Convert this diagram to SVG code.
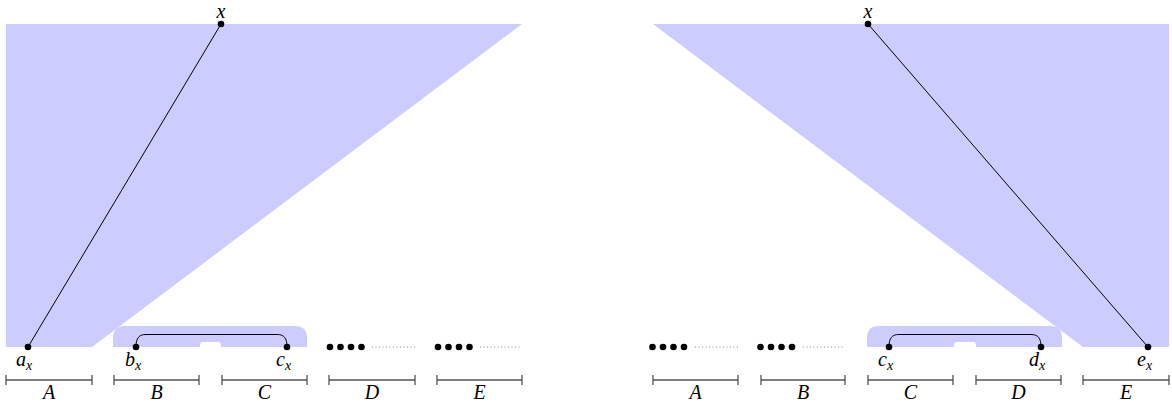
<svg xmlns="http://www.w3.org/2000/svg" width="1172" height="403" viewBox="0 0 1172 403">
<style>
.region{fill:#ccccff;stroke:none}
.edge{fill:none;stroke:#000;stroke-width:1}
.bar{fill:none;stroke:#555;stroke-width:1.3}
.dots{fill:none;stroke:#888;stroke-width:1;stroke-dasharray:1 2.5}
.pt{fill:#000}
</style>
<rect width="1172" height="403" fill="#fff"/>
<g font-family="Liberation Serif, serif" font-style="italic" font-size="20" fill="#000">
<g id="left-panel">
  <g id="left-regions">
    <polygon class="region" points="6,24 522,24 92,347 6,347"/>
    <path class="region" d="M113,347 V338 Q113,326 125,326 H295 Q307,326 307,338 V347 H221 V345 Q221,342 218,342 H203 Q200,342 200,345 V347 Z"/>
  </g>
  <g id="left-connectors">
    <line class="edge" x1="221" y1="24" x2="28" y2="347"/>
    <path class="edge" d="M136,347 C136,338 139,334.5 146,334.5 H277 C284,334.5 287,338 287,347"/>
    <line class="dots" x1="372" y1="347" x2="416" y2="347"/>
    <line class="dots" x1="480" y1="347" x2="522" y2="347"/>
  </g>
  <g id="left-x"><circle class="pt" cx="221" cy="24" r="3.3"/><text x="221" y="18" text-anchor="middle">x</text></g>
  <g id="left-ax"><circle class="pt" cx="28" cy="347" r="3.3"/><text x="16" y="366">a<tspan font-size="14" dy="4">x</tspan></text></g>
  <g id="left-bx"><circle class="pt" cx="136" cy="347" r="3.3"/><text x="125" y="366">b<tspan font-size="14" dy="4">x</tspan></text></g>
  <g id="left-cx"><circle class="pt" cx="287" cy="347" r="3.3"/><text x="276" y="366">c<tspan font-size="14" dy="4">x</tspan></text></g>
  <g id="left-D-dots"><circle class="pt" cx="330" cy="347" r="3.3"/><circle class="pt" cx="340.5" cy="347" r="3.3"/><circle class="pt" cx="351" cy="347" r="3.3"/><circle class="pt" cx="361.5" cy="347" r="3.3"/></g>
  <g id="left-E-dots"><circle class="pt" cx="438" cy="347" r="3.3"/><circle class="pt" cx="448.5" cy="347" r="3.3"/><circle class="pt" cx="459" cy="347" r="3.3"/><circle class="pt" cx="469.5" cy="347" r="3.3"/></g>
  <g id="left-A"><path class="bar" d="M6,375 V385 M6,380 H92 M92,375 V385"/><text x="49" y="399" text-anchor="middle">A</text></g>
  <g id="left-B"><path class="bar" d="M114,375 V385 M114,380 H199 M199,375 V385"/><text x="156.5" y="399" text-anchor="middle">B</text></g>
  <g id="left-C"><path class="bar" d="M222,375 V385 M222,380 H307 M307,375 V385"/><text x="264.5" y="399" text-anchor="middle">C</text></g>
  <g id="left-D"><path class="bar" d="M329,375 V385 M329,380 H415 M415,375 V385"/><text x="372" y="399" text-anchor="middle">D</text></g>
  <g id="left-E"><path class="bar" d="M437,375 V385 M437,380 H522 M522,375 V385"/><text x="479.5" y="399" text-anchor="middle">E</text></g>
</g>
<g id="right-panel">
  <g id="right-regions">
    <polygon class="region" points="653,24 1169,24 1169,347 1083,347"/>
    <path class="region" d="M867,347 V338 Q867,326 879,326 H1050 Q1062,326 1062,338 V347 H976 V345 Q976,342 973,342 H957 Q954,342 954,345 V347 Z"/>
  </g>
  <g id="right-connectors">
    <line class="edge" x1="868" y1="24" x2="1148" y2="347"/>
    <path class="edge" d="M889,347 C889,338 892,334.5 899,334.5 H1031 C1038,334.5 1041,338 1041,347"/>
    <line class="dots" x1="695" y1="347" x2="738" y2="347"/>
    <line class="dots" x1="803" y1="347" x2="845" y2="347"/>
  </g>
  <g id="right-x"><circle class="pt" cx="868" cy="24" r="3.3"/><text x="868" y="18" text-anchor="middle">x</text></g>
  <g id="right-cx"><circle class="pt" cx="889" cy="347" r="3.3"/><text x="878" y="366">c<tspan font-size="14" dy="4">x</tspan></text></g>
  <g id="right-dx"><circle class="pt" cx="1041" cy="347" r="3.3"/><text x="1029" y="366">d<tspan font-size="14" dy="4">x</tspan></text></g>
  <g id="right-ex"><circle class="pt" cx="1148" cy="347" r="3.3"/><text x="1137" y="366">e<tspan font-size="14" dy="4">x</tspan></text></g>
  <g id="right-A-dots"><circle class="pt" cx="652.5" cy="347" r="3.3"/><circle class="pt" cx="663" cy="347" r="3.3"/><circle class="pt" cx="673.5" cy="347" r="3.3"/><circle class="pt" cx="684" cy="347" r="3.3"/></g>
  <g id="right-B-dots"><circle class="pt" cx="760.5" cy="347" r="3.3"/><circle class="pt" cx="771" cy="347" r="3.3"/><circle class="pt" cx="781.5" cy="347" r="3.3"/><circle class="pt" cx="792" cy="347" r="3.3"/></g>
  <g id="right-A"><path class="bar" d="M653,375 V385 M653,380 H738 M738,375 V385"/><text x="695.5" y="399" text-anchor="middle">A</text></g>
  <g id="right-B"><path class="bar" d="M761,375 V385 M761,380 H845 M845,375 V385"/><text x="803" y="399" text-anchor="middle">B</text></g>
  <g id="right-C"><path class="bar" d="M868,375 V385 M868,380 H953 M953,375 V385"/><text x="910.5" y="399" text-anchor="middle">C</text></g>
  <g id="right-D"><path class="bar" d="M976,375 V385 M976,380 H1061 M1061,375 V385"/><text x="1018.5" y="399" text-anchor="middle">D</text></g>
  <g id="right-E"><path class="bar" d="M1083,375 V385 M1083,380 H1169 M1169,375 V385"/><text x="1126" y="399" text-anchor="middle">E</text></g>
</g>
</g>
</svg>
